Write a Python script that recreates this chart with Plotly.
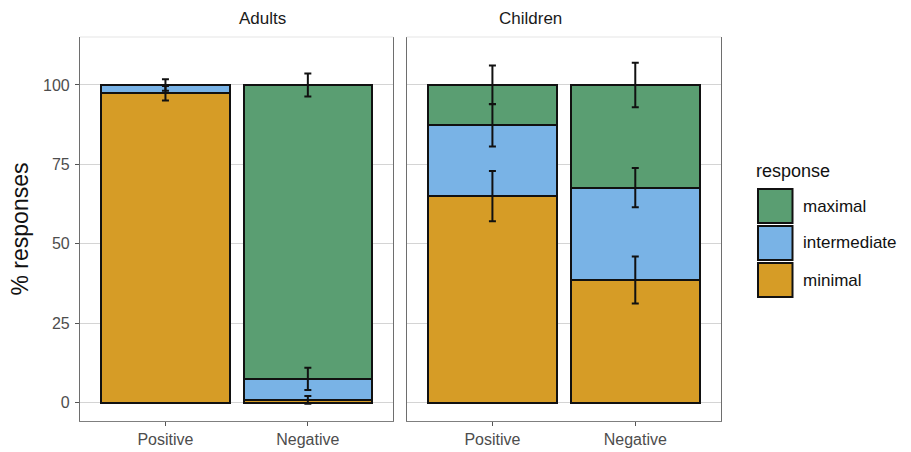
import plotly.graph_objects as go

# ---- data ----
groups = ["Adults", "Children"]
conditions = ["Positive", "Negative"]
responses = ["minimal", "intermediate", "maximal"]  # stacking order bottom -> top

minimal_vals = {"Adults": [97.4, 0.9], "Children": [65.0, 38.6]}
intermediate_vals = {"Adults": [2.6, 6.6], "Children": [22.3, 29.1]}
maximal_vals = {"Adults": [0.0, 92.5], "Children": [12.7, 32.3]}

minimal_err = {"Adults": [2.3, 1.2], "Children": [7.9, 7.4]}
intermediate_err = {"Adults": [1.8, 3.5], "Children": [6.7, 6.2]}
maximal_err = {"Adults": [0.0, 3.6], "Children": [6.1, 7.0]}

y_ticks = [0, 25, 50, 75, 100]
y_title = "% responses"
legend_title = "response"

colors = {"minimal": "#d69c26", "intermediate": "#79b3e6", "maximal": "#5a9e72"}
values = {"minimal": minimal_vals, "intermediate": intermediate_vals, "maximal": maximal_vals}
errors = {"minimal": minimal_err, "intermediate": intermediate_err, "maximal": maximal_err}

FONT = "Liberation Sans, Arial, Helvetica, sans-serif"

fig = go.Figure()
for gi, g in enumerate(groups):
    xa = "x" if gi == 0 else "x2"
    ya = "y" if gi == 0 else "y2"
    for r in responses:
        fig.add_trace(go.Bar(
            x=conditions, y=values[r][g], name=r, xaxis=xa, yaxis=ya,
            marker=dict(color=colors[r], line=dict(color="#111111", width=2)),
            width=0.9, showlegend=False,
        ))
    # error bars drawn on top, at the cumulative top of each segment
    cum = [0.0] * len(conditions)
    for r in responses:
        cum = [c + v for c, v in zip(cum, values[r][g])]
        fig.add_trace(go.Scatter(
            x=conditions, y=cum, mode="markers", xaxis=xa, yaxis=ya,
            marker=dict(size=1, color="rgba(0,0,0,0)"), showlegend=False, hoverinfo="skip",
            error_y=dict(type="data", array=errors[r][g], color="#111111",
                         thickness=2, width=3.5),
        ))

# ---- layout ----
W, H = 911, 452
L, R, T, B = 80, 190, 37, 31
pw = W - L - R
ph = H - T - B

def px2x(px):
    return (px - L) / pw

def px2y(py):
    return (H - B - py) / ph

d1 = [0, px2x(393.3)]
d2 = [px2x(406.7), 1]
yr = [-5.76, 115.1]

axis_common = dict(
    type="category", range=[-0.6, 1.6], showgrid=False, showline=True,
    linecolor="#7f7f7f", linewidth=1.2, ticks="outside", ticklen=4,
    tickcolor="#555555", tickwidth=1.2, automargin=False,
    tickfont=dict(family=FONT, size=16, color="#4d4d4d"), zeroline=False,
)
yaxis_common = dict(
    range=yr, tickvals=y_ticks, showgrid=True, gridcolor="#d4d4d4", gridwidth=1.2,
    showline=True, mirror=True, linecolor="#6e6e6e", linewidth=1.2, zeroline=False,
    automargin=False,
)

fig.update_layout(
    width=W, height=H, barmode="stack", bargap=0,
    margin=dict(l=L, r=R, t=T, b=B, autoexpand=False),
    plot_bgcolor="white", paper_bgcolor="white",
    font=dict(family=FONT),
    xaxis=dict(domain=d1, anchor="y", **axis_common),
    xaxis2=dict(domain=d2, anchor="y2", **axis_common),
    yaxis=dict(anchor="x", ticks="outside", ticklen=4, tickcolor="#555555", tickwidth=1.2,
               ticklabelstandoff=2,
               tickfont=dict(family=FONT, size=16, color="#4d4d4d"),
               title=dict(text=y_title, font=dict(family=FONT, size=23, color="#111111"), standoff=7),
               **yaxis_common),
    yaxis2=dict(anchor="x2", matches="y", showticklabels=False, ticks="", **yaxis_common),
)

# top borders (light) of each panel
for xr, yrf in (("x domain", "y domain"), ("x2 domain", "y2 domain")):
    fig.add_shape(type="line", xref=xr, yref=yrf, x0=0, x1=1, y0=1, y1=1,
                  line=dict(color="#e6e6e6", width=1.2))

# strip titles
for g, d in zip(groups, (d1, d2)):
    fig.add_annotation(text=g, xref="paper", yref="paper", x=(d[0] + d[1]) / 2, y=1,
                       yanchor="middle", yshift=19, showarrow=False,
                       font=dict(family=FONT, size=17, color="#1a1a1a"))

# legend (drawn keys)
fig.add_annotation(text=legend_title, xref="paper", yref="paper", x=px2x(755.5), y=px2y(171),
                   xanchor="left", yanchor="middle", showarrow=False, xshift=-2,
                   font=dict(family=FONT, size=18, color="#111111"))
key_tops = {"maximal": 189, "intermediate": 226, "minimal": 263}
for r in ["maximal", "intermediate", "minimal"]:
    t = key_tops[r]
    fig.add_shape(type="rect", xref="paper", yref="paper",
                  x0=px2x(758), x1=px2x(792.5), y0=px2y(t + 34), y1=px2y(t),
                  fillcolor=colors[r], line=dict(color="#111111", width=2))
    fig.add_annotation(text=r, xref="paper", yref="paper", x=px2x(803), y=px2y(t + 17),
                       xanchor="left", yanchor="middle", showarrow=False, xshift=-2,
                       font=dict(family=FONT, size=17, color="#111111"))

fig.write_html("out.html", config={"displayModeBar": False},
               post_script="document.body.style.margin='0';document.body.style.overflow='hidden';")
